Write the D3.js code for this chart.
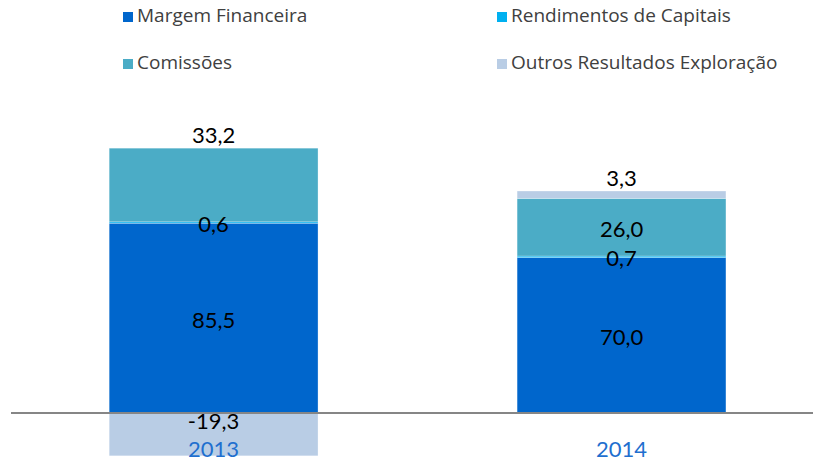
<!DOCTYPE html>
<html>
<head>
<meta charset="utf-8">
<script src="https://cdnjs.cloudflare.com/ajax/libs/d3/7.8.5/d3.min.js"></script>
<style>
  body { margin: 0; background: #fff; }
</style>
</head>
<body>
<div id="chart-area"></div>
<script>
var years = ["2013", "2014"]
var series = ["Margem Financeira", "Rendimentos de Capitais", "Comissões", "Outros Resultados Exploração"]
var margem = [85.5, 70.0]
var rendimentos = [0.6, 0.7]
var comissoes = [33.2, 26.0]
var outros = [-19.3, 3.3]

var colors = ["#0066cc", "#00b0f0", "#4bacc6", "#b9cde5"]
// where each label sits: c = centre, a = above stack, b = just under baseline
var labelMode = [["c", "c", "a", "b"], ["c", "c", "c", "a"]]

var width = 813, height = 465

var svg = d3.select("#chart-area")
    .append("svg")
    .attr("width", width)
    .attr("height", height)

var x = d3.scaleBand()
    .domain(years)
    .range([11, 813])
    .paddingInner(0.488)
    .paddingOuter(0.227)
    .align(0.53)

var y = d3.scaleLinear()
    .domain([-20, 120])
    .range([457.4, 146.6])

var fmt = v => d3.format(".1f")(v).replace("\u2212", "-").replace(".", ",")

// build stacked segments (positives stack up, negatives go down)
var values = [margem, rendimentos, comissoes, outros]
var segments = []
years.forEach((yr, i) => {
    var pos = 0, neg = 0
    values.forEach((vals, s) => {
        var v = vals[i], y0, y1
        if (v >= 0) { y0 = pos; y1 = pos + v; pos = y1 }
        else { y0 = neg; y1 = neg + v; neg = y1 }
        segments.push({ year: yr, yi: i, s: s, value: v, y0: y0, y1: y1, top: 0 })
    })
    segments.filter(d => d.yi == i).forEach(d => { d.top = pos })
})

svg.append("g")
    .selectAll("rect")
    .data(segments)
    .enter()
    .append("rect")
    .attr("x", d => x(d.year))
    .attr("width", x.bandwidth())
    .attr("y", d => y(Math.max(d.y0, d.y1)))
    .attr("height", d => Math.abs(y(d.y0) - y(d.y1)))
    .attr("fill", d => colors[d.s])
    .attr("stroke", "rgba(255,255,255,0.5)")
    .attr("stroke-width", 0.6)

// baseline
svg.append("line")
    .attr("x1", 11)
    .attr("x2", 813)
    .attr("y1", y(0))
    .attr("y2", y(0))
    .attr("stroke", "#868686")
    .attr("stroke-width", 2)

// data labels
svg.append("g")
    .selectAll("text")
    .data(segments)
    .enter()
    .append("text")
    .attr("x", d => x(d.year) + x.bandwidth() / 2)
    .attr("y", d => {
        var m = labelMode[d.yi][d.s]
        if (m == "a") return y(d.top) - 11
        if (m == "b") return y(0) + 10
        return y((d.y0 + d.y1) / 2) + 4
    })
    .attr("text-anchor", "middle")
    .attr("dominant-baseline", "middle")
    .attr("font-family", "Lato, 'Open Sans', sans-serif")
    .attr("font-size", "22px")
    .attr("fill", "#000")
    .text(d => fmt(d.value))

// year labels
svg.append("g")
    .selectAll("text")
    .data(years)
    .enter()
    .append("text")
    .attr("x", d => x(d) + x.bandwidth() / 2)
    .attr("y", 451)
    .attr("text-anchor", "middle")
    .attr("dominant-baseline", "middle")
    .attr("font-family", "Lato, 'Open Sans', sans-serif")
    .attr("font-size", "22px")
    .attr("fill", "#1f6fcf")
    .text(d => d)

// legend, two columns
var legend = svg.append("g")
    .selectAll("g")
    .data(series)
    .enter()
    .append("g")
    .attr("transform", (d, i) => "translate(" + (i % 2 == 0 ? 123 : 497) + "," + (i < 2 ? 17 : 64) + ")")

legend.append("rect")
    .attr("x", 0)
    .attr("y", -5)
    .attr("width", 10)
    .attr("height", 10)
    .attr("fill", (d, i) => colors[i])

legend.append("text")
    .attr("x", 14)
    .attr("y", 0)
    .attr("dominant-baseline", "middle")
    .attr("font-family", "'Open Sans', sans-serif")
    .attr("font-size", "19px")
    .attr("fill", "#404040")
    .text(d => d)
</script>
</body>
</html>
